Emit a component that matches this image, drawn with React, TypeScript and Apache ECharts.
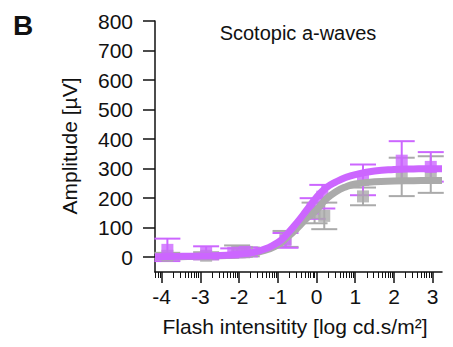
import React, { useEffect, useRef } from "react";
import * as echarts from "echarts";

// ---- data (x in log cd.s/m², y in µV) ----
const purpleX = [-3.85, -2.85, -2.15, -1.85, -0.8, -0.1, 0.15, 1.2, 2.2, 2.95];
const purpleY = [25, 15, 15, 18, 57, 165, 205, 262, 327, 306];
const purpleErr = [38, 22, 15, 15, 25, 35, 40, 52, 66, 50];

const greyX = [-3.85, -2.85, -2.05, -1.8, -0.8, -0.05, 0.2, 1.2, 2.2, 2.95];
const greyY = [5, 5, 20, 18, 62, 150, 140, 206, 272, 280];
const greyErr = [10, 12, 20, 15, 27, 35, 45, 30, 65, 62];

const fitX = [-4.17, -3.5, -3, -2.5, -2, -1.5, -1, -0.75, -0.5, -0.25, 0, 0.25, 0.5, 0.75, 1, 1.5, 2, 2.5, 3, 3.24];
const purpleFit = [2, 3, 4, 6, 10, 21, 50, 80, 118, 160, 203, 235, 255, 270, 280, 292, 297, 299, 300, 300];
const greyFit = [1, 2, 3, 5, 8, 17, 42, 68, 98, 132, 160, 197, 222, 238, 248, 256, 258, 259, 260, 260];

const xTicks = [-4, -3, -2, -1, 0, 1, 2, 3];
const yTicks = [0, 100, 200, 300, 400, 500, 600, 700, 800];

const X_MIN = -4.17;
const X_MAX = 3.24;
const Y_MIN = -50;
const Y_MAX = 800;

const PURPLE = "#cc66ff";
const GREY = "#aaaaaa";
const FONT = "Liberation Sans, Arial, sans-serif";

const minorTicks: number[] = [];
for (let n = -5; n <= 3; n++) {
  for (let k = 2; k <= 9; k++) {
    const v = n + Math.log10(k);
    if (v >= X_MIN && v <= X_MAX) minorTicks.push(v);
  }
}

function errorSeries(xs: number[], ys: number[], es: number[], color: string) {
  return {
    type: "custom",
    xAxisIndex: 0,
    yAxisIndex: 0,
    data: xs.map((x, i) => [x, ys[i], es[i]]),
    encode: { x: 0, y: 1 },
    renderItem: (params: any, api: any) => {
      const x = api.value(0);
      const y = api.value(1);
      const e = api.value(2);
      const top = api.coord([x, y + e]);
      const bot = api.coord([x, y - e]);
      const half = 13;
      const style = { stroke: color, lineWidth: 2 };
      return {
        type: "group",
        children: [
          { type: "line", shape: { x1: top[0], y1: top[1], x2: bot[0], y2: bot[1] }, style },
          { type: "line", shape: { x1: top[0] - half, y1: top[1], x2: top[0] + half, y2: top[1] }, style },
          { type: "line", shape: { x1: bot[0] - half, y1: bot[1], x2: bot[0] + half, y2: bot[1] }, style },
        ],
      };
    },
  };
}

export default function App() {
  const ref = useRef<HTMLDivElement>(null);
  useEffect(() => {
    if (!ref.current) return;
    const chart = echarts.init(ref.current, null, { renderer: "svg" });
    const axisColor = "#111";
    chart.setOption({
      animation: false,
      backgroundColor: "#fff",
      textStyle: { fontFamily: FONT },
      grid: { left: 155, right: 11, top: 21, bottom: 75, containLabel: false, outerBoundsMode: "none" },
      xAxis: [
        {
          type: "value",
          min: X_MIN,
          max: X_MAX,
          position: "bottom",
          axisLine: { onZero: false, lineStyle: { color: axisColor, width: 1.5 } },
          axisTick: { show: true, customValues: xTicks, length: 11, lineStyle: { color: axisColor, width: 1.5 } },
          axisLabel: { customValues: xTicks, fontSize: 21, color: "#111", margin: 14, fontFamily: FONT },
          splitLine: { show: false },
        },
        {
          type: "value",
          min: X_MIN,
          max: X_MAX,
          position: "bottom",
          offset: 0,
          axisLine: { show: false, onZero: false },
          axisTick: { show: true, customValues: minorTicks, length: 6, lineStyle: { color: axisColor, width: 1 } },
          axisLabel: { show: false },
          splitLine: { show: false },
        },
      ],
      yAxis: {
        type: "value",
        min: Y_MIN,
        max: Y_MAX,
        axisLine: { show: true, onZero: false, lineStyle: { color: axisColor, width: 1.5 } },
        axisTick: { show: true, customValues: yTicks, length: 12, lineStyle: { color: axisColor, width: 1.5 } },
        axisLabel: { customValues: yTicks, fontSize: 21, color: "#111", margin: 22, fontFamily: FONT },
        splitLine: { show: false },
      },
      graphic: [
        { type: "text", x: 23, y: 25, style: { text: "B", font: `bold 28px ${FONT}`, fill: "#111", align: "center", verticalAlign: "middle" } },
        { type: "text", x: 298, y: 33, style: { text: "Scotopic a-waves", font: `20px ${FONT}`, fill: "#111", align: "center", verticalAlign: "middle" } },
        { type: "text", x: 295, y: 326, style: { text: "Flash intensitity [log cd.s/m²]", font: `21px ${FONT}`, fill: "#111", align: "center", verticalAlign: "middle" } },
        { type: "text", x: 69, y: 146, rotation: Math.PI / 2, style: { text: "Amplitude [µV]", font: `21px ${FONT}`, fill: "#111", align: "center", verticalAlign: "middle" } },
      ],
      series: [
        errorSeries(greyX, greyY, greyErr, GREY),
        {
          type: "scatter",
          symbol: "rect",
          symbolSize: 12,
          itemStyle: { color: GREY },
          data: greyX.map((x, i) => [x, greyY[i]]),
        },
        {
          type: "line",
          smooth: true,
          symbol: "none",
          lineStyle: { color: GREY, width: 7 },
          data: fitX.map((x, i) => [x, greyFit[i]]),
        },
        errorSeries(purpleX, purpleY, purpleErr, PURPLE),
        {
          type: "scatter",
          symbol: "rect",
          symbolSize: 12,
          itemStyle: { color: PURPLE },
          data: purpleX.map((x, i) => [x, purpleY[i]]),
        },
        {
          type: "line",
          smooth: true,
          symbol: "none",
          lineStyle: { color: PURPLE, width: 7 },
          data: fitX.map((x, i) => [x, purpleFit[i]]),
        },
      ],
    });
    return () => chart.dispose();
  }, []);
  return <div ref={ref} style={{ width: 453, height: 347, position: "absolute", left: 0, top: 0 }} />;
}
